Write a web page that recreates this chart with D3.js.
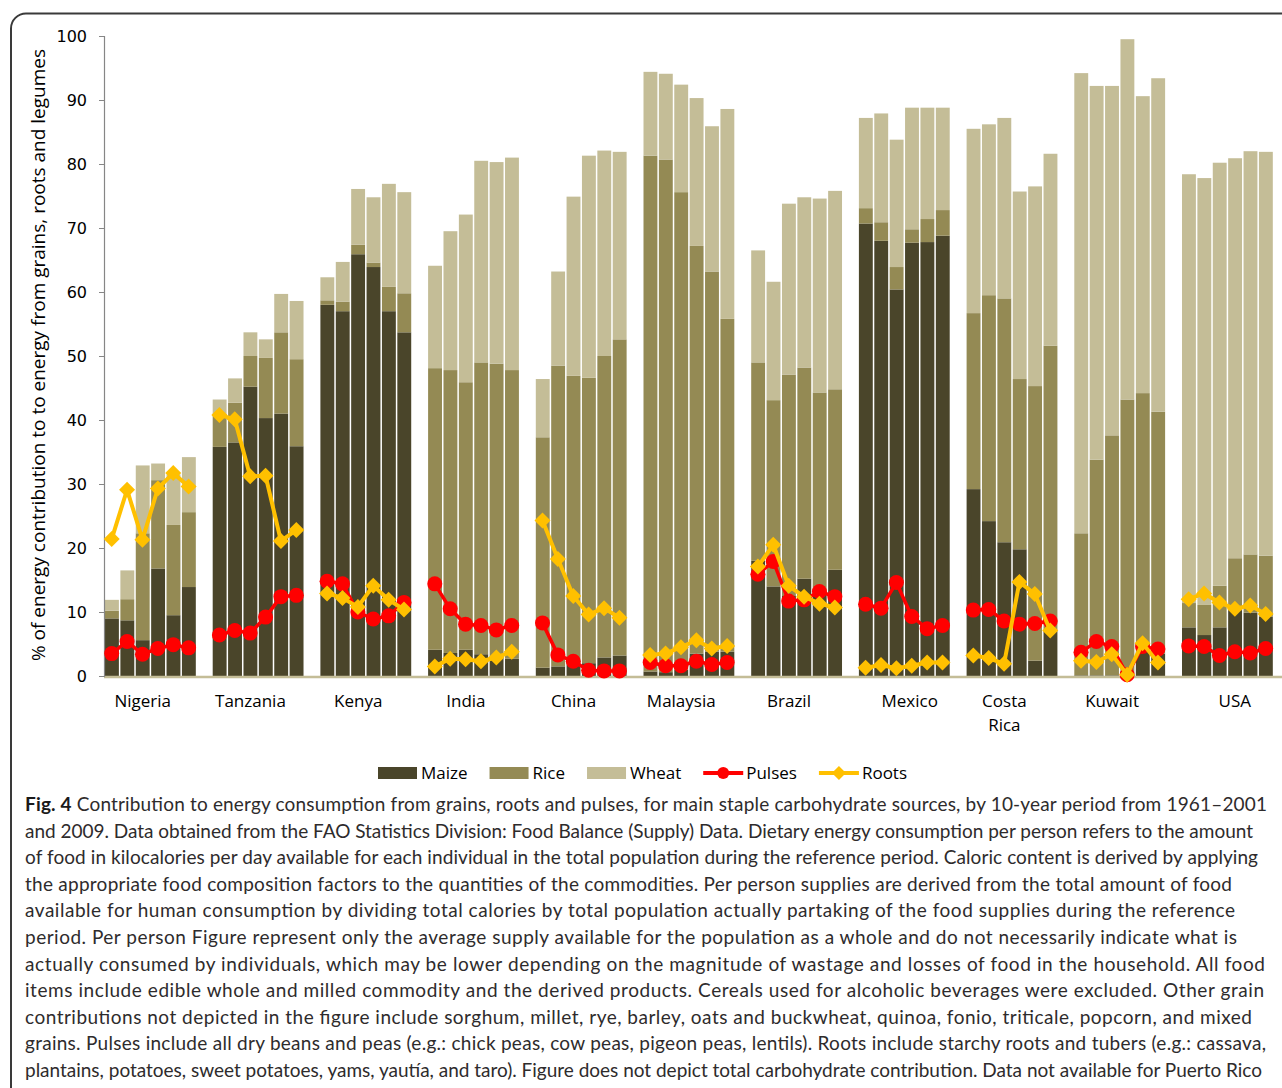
<!DOCTYPE html>
<html>
<head>
  <meta charset="utf-8">
  <script src="https://cdn.jsdelivr.net/npm/d3@7"></script>
  <style>
    body { margin: 0; background: #fff; }
    svg { display: block; }
  </style>
</head>
<body>
<script>
  // categories
  var countries = ["Nigeria", "Tanzania", "Kenya", "India", "China", "Malaysia",
                   "Brazil", "Mexico", "Costa Rica", "Kuwait", "USA"];
  var years = ["1961", "1971", "1981", "1991", "2001", "2009"];
  var yTicks = [0, 10, 20, 30, 40, 50, 60, 70, 80, 90, 100];

  // stacked grain shares, one row per country, one value per period
  var maize = [
    [9.0, 8.7, 5.6, 16.8, 9.5, 13.9],
    [35.8, 36.5, 45.2, 40.3, 41.0, 35.9],
    [58.0, 57.0, 65.9, 63.9, 57.0, 53.7],
    [4.1, 3.6, 4.1, 3.4, 3.0, 2.7],
    [1.3, 1.5, 1.8, 2.0, 2.9, 3.2],
    [0.7, 0.6, 1.0, 3.5, 3.8, 3.8],
    [18.0, 14.0, 12.5, 15.2, 13.0, 16.6],
    [70.7, 68.0, 60.4, 67.7, 67.8, 68.8],
    [29.2, 24.2, 20.9, 19.8, 2.4, 7.0],
    [0.1, 0.1, 0.1, 0.1, 3.8, 3.5],
    [7.6, 6.4, 7.6, 10.3, 9.9, 9.3]
  ];
  var rice = [
    [1.2, 3.3, 16.7, 13.8, 14.1, 11.7],
    [5.2, 6.2, 4.8, 9.4, 12.7, 13.6],
    [0.7, 1.5, 1.5, 0.7, 3.8, 6.1],
    [44.0, 44.2, 41.8, 45.6, 45.8, 45.1],
    [36.0, 47.0, 45.1, 44.6, 47.1, 49.4],
    [80.6, 80.1, 74.6, 63.7, 59.4, 52.0],
    [31.0, 29.1, 34.6, 33.0, 31.3, 28.2],
    [2.4, 2.9, 3.5, 2.1, 3.6, 4.0],
    [27.5, 35.3, 38.1, 26.6, 42.9, 44.6],
    [22.2, 33.7, 37.5, 43.1, 40.4, 37.8],
    [3.8, 4.7, 6.5, 8.1, 9.1, 9.5]
  ];
  var wheat = [
    [1.7, 4.5, 10.6, 2.6, 7.9, 8.6],
    [2.2, 3.8, 3.7, 2.9, 6.0, 9.1],
    [3.6, 6.2, 8.7, 10.2, 16.1, 15.8],
    [16.0, 21.7, 26.2, 31.5, 31.5, 33.2],
    [9.1, 14.7, 28.0, 34.7, 32.1, 29.3],
    [13.1, 13.4, 16.8, 23.1, 22.7, 32.8],
    [17.5, 18.5, 26.7, 26.6, 30.3, 31.0],
    [14.1, 17.0, 19.9, 19.0, 17.4, 16.0],
    [28.8, 26.7, 28.2, 29.3, 31.2, 30.0],
    [71.9, 58.4, 54.6, 56.3, 46.4, 52.1],
    [67.0, 66.7, 66.1, 62.5, 63.0, 63.1]
  ];

  // line series
  var pulses = [
    [3.5, 5.4, 3.4, 4.3, 4.9, 4.4],
    [6.4, 7.1, 6.7, 9.2, 12.4, 12.6],
    [14.8, 14.4, 10.0, 8.9, 9.4, 11.5],
    [14.4, 10.5, 8.1, 7.9, 7.2, 7.9],
    [8.3, 3.3, 2.3, 0.9, 0.8, 0.8],
    [2.1, 1.6, 1.6, 2.3, 1.8, 2.1],
    [15.9, 17.9, 11.7, 11.9, 13.2, 12.4],
    [11.2, 10.6, 14.6, 9.3, 7.4, 7.9],
    [10.3, 10.4, 8.6, 8.1, 8.2, 8.6],
    [3.7, 5.4, 4.6, 0.2, 4.6, 4.2],
    [4.7, 4.6, 3.2, 3.8, 3.6, 4.3]
  ];
  var roots = [
    [21.4, 29.1, 21.3, 29.3, 31.7, 29.6],
    [40.8, 40.1, 31.2, 31.3, 21.1, 22.8],
    [12.9, 12.2, 10.8, 14.1, 11.9, 10.4],
    [1.5, 2.7, 2.6, 2.3, 2.9, 3.8],
    [24.3, 18.3, 12.5, 9.6, 10.6, 9.1],
    [3.3, 3.5, 4.5, 5.6, 4.3, 4.7],
    [17.1, 20.5, 14.1, 12.4, 11.3, 10.7],
    [1.3, 1.7, 1.2, 1.6, 2.1, 2.1],
    [3.2, 2.8, 1.9, 14.7, 12.8, 7.1],
    [2.4, 2.2, 3.4, 0.2, 5.1, 2.1],
    [12.0, 12.9, 11.5, 10.5, 11.0, 9.7]
  ];

  var captionLines = [
    "and 2009. Data obtained from the FAO Statistics Division: Food Balance (Supply) Data. Dietary energy consumption per person refers to the amount",
    "of food in kilocalories per day available for each individual in the total population during the reference period. Caloric content is derived by applying",
    "the appropriate food composition factors to the quantities of the commodities. Per person supplies are derived from the total amount of food",
    "available for human consumption by dividing total calories by total population actually partaking of the food supplies during the reference",
    "period. Per person Figure represent only the average supply available for the population as a whole and do not necessarily indicate what is",
    "actually consumed by individuals, which may be lower depending on the magnitude of wastage and losses of food in the household. All food",
    "items include edible whole and milled commodity and the derived products. Cereals used for alcoholic beverages were excluded. Other grain",
    "contributions not depicted in the figure include sorghum, millet, rye, barley, oats and buckwheat, quinoa, fonio, triticale, popcorn, and mixed",
    "grains. Pulses include all dry beans and peas (e.g.: chick peas, cow peas, pigeon peas, lentils). Roots include starchy roots and tubers (e.g.: cassava,",
    "plantains, potatoes, sweet potatoes, yams, yautía, and taro). Figure does not depict total carbohydrate contribution. Data not available for Puerto Rico"
  ];
  // right end of each caption line in the printed figure (first line included)
  var captionEnds = [1267, 1253, 1258, 1232, 1235, 1237, 1265, 1264, 1252, 1266, 1262];

  //colours
  var colors = {maize: "#4a452a", rice: "#948a54", wheat: "#c4bd97", pulses: "#ff0000", roots: "#ffc000"};

  //SVG
  var width = 1282, height = 1088;
  var svg = d3.select("body").append("svg")
      .attr("width", width)
      .attr("height", height);

  svg.append("rect").attr("width", width).attr("height", height).attr("fill", "#fff");

  // frame round the figure, cropped on the right and bottom
  svg.append("path")
      .attr("d", "M1300,13.5 H26 A15,15 0 0 0 11,28.5 V1100")
      .attr("fill", "none")
      .attr("stroke", "#3a3a3a")
      .attr("stroke-width", 2);

  //scales
  var plotLeft = 104, groupW = 107.7;
  var y = d3.scaleLinear().domain([0, 100]).range([676, 36]);
  var x0 = d3.scaleBand().domain(countries)
      .range([plotLeft, plotLeft + groupW * countries.length]);
  var x1 = d3.scaleBand().domain(years.concat(["gap"]))
      .range([0, x0.bandwidth()]);

  //data table for the stack
  var rows = [];
  countries.forEach(function(c, i) {
    years.forEach(function(yr, j) {
      rows.push({country: c, year: yr, maize: maize[i][j], rice: rice[i][j], wheat: wheat[i][j]});
    });
  });
  var stacked = d3.stack().keys(["maize", "rice", "wheat"])(rows);

  //bars
  svg.append("g").selectAll("g")
    .data(stacked)
    .join("g")
      .attr("fill", function(d) { return colors[d.key]; })
    .selectAll("rect")
    .data(function(d) { return d; })
    .join("rect")
      .attr("x", function(d) { return x0(d.data.country) + x1(d.data.year) + 1; })
      .attr("width", x1.bandwidth() - 1.5)
      .attr("y", function(d) { return y(d[1]); })
      .attr("height", function(d) { return y(d[0]) - y(d[1]); });

  //baseline
  svg.append("line")
      .attr("x1", plotLeft).attr("x2", width)
      .attr("y1", y(0) + 1).attr("y2", y(0) + 1)
      .attr("stroke", "#c4bd97")
      .attr("stroke-width", 2.5);

  //y axis
  var yAxis = svg.append("g")
      .attr("transform", "translate(" + plotLeft + ",0)")
      .call(d3.axisLeft(y).tickValues(yTicks).tickSize(5).tickPadding(12));
  yAxis.select(".domain").attr("stroke", "#868686").attr("stroke-width", 1.2);
  yAxis.selectAll(".tick line").attr("stroke", "#868686");
  yAxis.selectAll(".tick text")
      .style("font-family", "'DejaVu Sans', sans-serif")
      .style("font-size", "16px")
      .attr("fill", "#000");

  svg.append("text")
      .attr("transform", "translate(38,355) rotate(-90)")
      .attr("text-anchor", "middle")
      .attr("dominant-baseline", "central")
      .style("font-family", "'Open Sans', sans-serif")
      .style("font-size", "19px")
      .text("% of energy contribution to to energy from grains, roots and legumes");

  //country labels
  var labelNudge = {"Mexico": 13, "USA": 15};
  var labels = svg.append("g")
      .style("font-family", "'Open Sans', sans-serif")
      .style("font-size", "17px")
      .attr("text-anchor", "middle");
  countries.forEach(function(c) {
    var lx = x0(c) + x0.bandwidth() * 0.36 + (labelNudge[c] || 0);
    var t = labels.append("text").attr("x", lx).attr("y", 707);
    c.split(" ").forEach(function(w, k) {
      t.append("tspan").attr("x", lx).attr("dy", k ? 24 : 0).text(w);
    });
  });

  //lines
  function cx(c, yr) { return x0(c) + x1(yr) + x1.bandwidth() / 2; }

  function drawSeries(vals, key, lineW, marker) {
    var g = svg.append("g");
    var line = d3.line()
      .x(function(d) { return cx(d.c, d.yr); })
      .y(function(d) { return y(d.v); });
    countries.forEach(function(c, i) {
      var pts = years.map(function(yr, j) { return {c: c, yr: yr, v: vals[i][j]}; });
      g.append("path")
          .attr("d", line(pts))
          .attr("fill", "none")
          .attr("stroke", colors[key])
          .attr("stroke-width", lineW)
          .attr("stroke-linejoin", "round");
      g.selectAll(null)
        .data(pts)
        .join("path")
          .attr("transform", function(d) { return "translate(" + cx(d.c, d.yr) + "," + y(d.v) + ")"; })
          .attr("d", marker)
          .attr("fill", colors[key]);
    });
  }
  var circleMark = d3.symbol().type(d3.symbolCircle).size(Math.PI * 7.5 * 7.5)();
  var diamondMark = "M0,-8L8,0L0,8L-8,0Z";
  drawSeries(pulses, "pulses", 3.5, circleMark);
  drawSeries(roots, "roots", 4, diamondMark);

  //legend
  var legend = svg.append("g")
      .style("font-family", "'Open Sans', sans-serif")
      .style("font-size", "17px");
  var lx = 378, ly = 773;
  ["maize", "rice", "wheat", "pulses", "roots"].forEach(function(k) {
    if (k === "pulses" || k === "roots") {
      legend.append("line")
          .attr("x1", lx).attr("x2", lx + 40).attr("y1", ly).attr("y2", ly)
          .attr("stroke", colors[k]).attr("stroke-width", 4);
      legend.append("path")
          .attr("transform", "translate(" + (lx + 20) + "," + ly + ")")
          .attr("d", k === "pulses" ? d3.symbol().type(d3.symbolCircle).size(Math.PI * 36)() : "M0,-7L7,0L0,7L-7,0Z")
          .attr("fill", colors[k]);
    } else {
      legend.append("rect")
          .attr("x", lx).attr("y", ly - 6).attr("width", 39).attr("height", 12)
          .attr("fill", colors[k]);
    }
    var t = legend.append("text")
        .attr("x", lx + 43).attr("y", ly + 6)
        .text(k.charAt(0).toUpperCase() + k.slice(1));
    lx = lx + 43 + t.node().getComputedTextLength() + 22;
  });

  //caption
  var cap = svg.append("g")
      .style("font-family", "Lato, sans-serif")
      .style("font-size", "19px")
      .attr("fill", "#2e2b2c");
  var first = cap.append("text").attr("x", 25).attr("y", 811)
      .attr("textLength", captionEnds[0] - 25)
      .attr("lengthAdjust", "spacing");
  first.append("tspan").style("font-weight", "bold").attr("fill", "#1a1a1a").text("Fig. 4");
  first.append("tspan").text(" Contribution to energy consumption from grains, roots and pulses, for main staple carbohydrate sources, by 10-year period from 1961\u20132001");
  captionLines.forEach(function(s, i) {
    cap.append("text").attr("x", 25).attr("y", 811 + 26.6 * (i + 1))
        .attr("textLength", captionEnds[i + 1] - 25)
        .attr("lengthAdjust", "spacing")
        .text(s);
  });
</script>
</body>
</html>
